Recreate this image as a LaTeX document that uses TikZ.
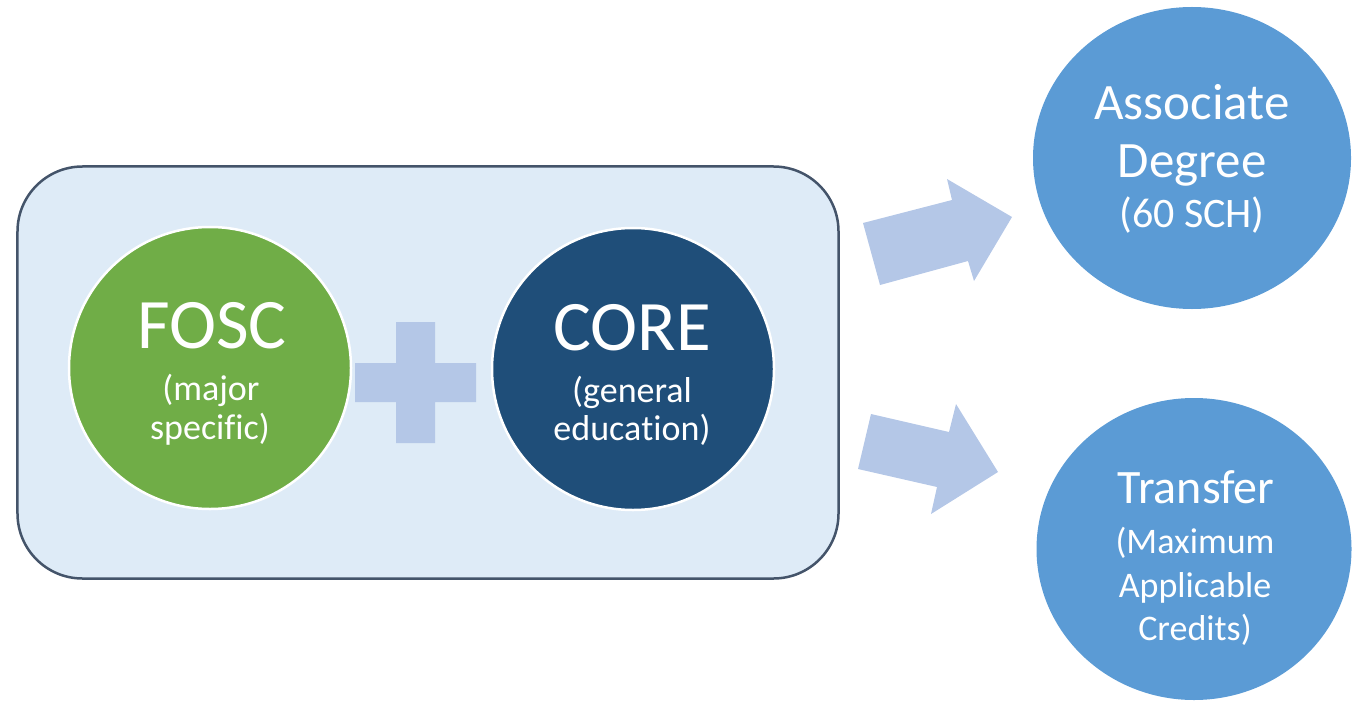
\documentclass[tikz,border=0pt]{standalone}
\usepackage{fontspec}
\setmainfont{Carlito}[Ligatures={NoCommon,NoRare,NoContextual}]
\usetikzlibrary{shapes.geometric}
\definecolor{boxfill}{HTML}{DEEBF7}
\definecolor{boxline}{HTML}{44546A}
\definecolor{foscgreen}{HTML}{70AD47}
\definecolor{coreblue}{HTML}{1F4E79}
\definecolor{outblue}{HTML}{5B9BD5}
\definecolor{arrowblue}{HTML}{B4C7E7}
\begin{document}
\begin{tikzpicture}[x=1bp,y=-1bp,
  container/.style={draw=boxline,fill=boxfill,line width=2.5bp,rounded corners=65bp,
    minimum width=821bp,minimum height=412bp,inner sep=0pt},
  incircle/.style={circle,draw=white,line width=2.5bp,minimum size=282bp,inner sep=0pt},
  outcircle/.style={ellipse,fill=outblue,minimum width=318bp,minimum height=302bp,inner sep=0pt},
  lbl/.style={text=white,anchor=base,inner sep=0pt},
  huge71/.style={lbl,font=\fontsize{71bp}{80bp}\selectfont},
  sub36/.style={lbl,font=\fontsize{36bp}{40bp}\selectfont},
  head51/.style={lbl,font=\fontsize{51bp}{58bp}\selectfont},
  head48/.style={lbl,font=\fontsize{48bp}{56bp}\selectfont},
  sub42/.style={lbl,font=\fontsize{42bp}{48bp}\selectfont},
  blockshape/.style={fill=arrowblue,draw=none}
]
\useasboundingbox (0,0) rectangle (1363,701);

% container
\node[container] (box) at (428,372.5) {};

% inner circles
\node[incircle,fill=foscgreen] (fosc) at (210,368) {};
\node[incircle,fill=coreblue] (core) at (633,369) {};

% plus sign
\fill[blockshape] (396,322) -- (435,322) -- (435,363) -- (476,363) -- (476,402) -- (435,402)
  -- (435,443) -- (396,443) -- (396,402) -- (355,402) -- (355,363) -- (396,363) -- cycle;

% outcome circles
\node[outcircle] (assoc) at (1192,158) {};
\node[outcircle,minimum width=315bp] (transfer) at (1194,549) {};

% block arrows
\fill[blockshape] (863,223) -- (952,200) -- (947,179) -- (1012,217) -- (974,281) -- (968,261) -- (880,285) -- cycle;
\fill[blockshape] (871,414) -- (949,432) -- (956,404) -- (998,472) -- (931,514) -- (937,487) -- (858,469) -- cycle;

% texts
\node[huge71] (fosc-t) at (212,348) {FOSC};
\node[sub36] (fosc-s1) at (211,400) {(major};
\node[sub36] (fosc-s2) at (210,439) {speci\kern0pt f\kern0pt ic)};

\node[huge71] (core-t) at (632,350) {CORE};
\node[sub36] (core-s1) at (632,402) {(general};
\node[sub36] (core-s2) at (632,440) {educa\kern0pt tion)};

\node[head51] (assoc-t1) at (1192,120) {Associate};
\node[head51] (assoc-t2) at (1192,177) {Degree};
\node[sub42] (assoc-s) at (1192,227) {(60 SCH)};

\node[head48] (transfer-t) at (1196,503) {Transfer};
\node[sub36] (transfer-s1) at (1195,553) {(Maximum};
\node[sub36] (transfer-s2) at (1195,597) {Applicable};
\node[sub36] (transfer-s3) at (1195,640) {Credits)};
\end{tikzpicture}
\end{document}
